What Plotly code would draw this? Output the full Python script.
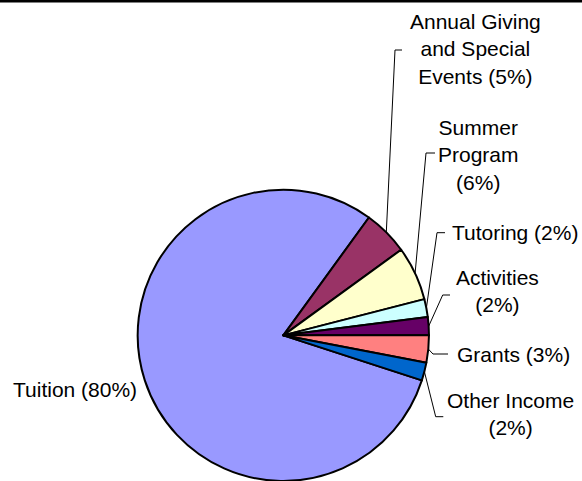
import math
import plotly.graph_objects as go

# ---- data ----
categories = ["Tuition", "Annual Giving and Special Events", "Summer Program",
              "Tutoring", "Activities", "Grants", "Other Income"]
values = [80, 5, 6, 2, 2, 3, 2]
# label text as shown (line breaks), percentage appended from values
label_names = ["Tuition ", "Annual Giving<br>and Special<br>Events ", "Summer<br>Program<br>",
               "Tutoring ", "Activities<br>", "Grants ", "Other Income<br>"]
colors = ["#9999FF", "#993366", "#FFFFCC", "#CCFFFF", "#660066", "#FF8080", "#0066CC"]

# ---- layout constants (pixels) ----
W, H = 582, 481
dom_x = [0.2365, 0.7371]
dom_y = [0.0, 0.6056]
rotation = 108
label_pos = [(74.7, 389), (475.5, 49), (478, 155), (515, 232), (497, 291), (513, 354), (510, 414)]
leader = [None, (395, 50, 402), (426, 153, 435), (437, 232.7, 445),
          (442.7, 295, 450), (433, 354, 448), (435.7, 416.7, 443.3)]

fig = go.Figure(go.Pie(
    labels=categories, values=values, sort=False, direction="clockwise",
    rotation=rotation, textinfo="none", hoverinfo="label+percent",
    marker=dict(colors=colors, line=dict(color="black", width=2)),
    domain=dict(x=dom_x, y=dom_y), showlegend=False,
))

def px(x):
    return x / W

def py(y):
    return 1 - y / H

# pie geometry in pixels
cx = (dom_x[0] + dom_x[1]) / 2 * W
cy = (1 - (dom_y[0] + dom_y[1]) / 2) * H
r = min((dom_x[1] - dom_x[0]) * W, (dom_y[1] - dom_y[0]) * H) / 2

total = sum(values)
ang = rotation
annotations = []
shapes = []
for i, v in enumerate(values):
    mid = ang + v / total * 360 / 2
    ang += v / total * 360
    text = f"{label_names[i]}({v}%)"
    lx, ly = label_pos[i]
    annotations.append(dict(x=px(lx), y=py(ly), xref="paper", yref="paper", text=text,
                            showarrow=False, xanchor="center", yanchor="middle",
                            font=dict(family="Liberation Sans, Arial", size=21, color="black")))
    if leader[i] is not None:
        a = math.radians(mid)
        ax = cx + r * math.sin(a)
        ay = cy - r * math.cos(a)
        ex, ey, sx = leader[i]
        path = f"M {px(ax)} {py(ay)} L {px(ex)} {py(ey)} L {px(sx)} {py(ey)}"
        shapes.append(dict(type="path", xref="paper", yref="paper", path=path,
                           line=dict(color="black", width=1)))

# top border line
shapes.append(dict(type="line", xref="paper", yref="paper", x0=0, x1=1,
                   y0=py(1.3), y1=py(1.3), line=dict(color="black", width=2.6)))

fig.update_layout(width=W, height=H, margin=dict(l=0, r=0, t=0, b=0),
                  paper_bgcolor="white", plot_bgcolor="white",
                  annotations=annotations, shapes=shapes)

fig.write_html("out.html", config={"displayModeBar": False},
               post_script="document.body.style.margin='0';document.body.style.overflow='hidden';")
